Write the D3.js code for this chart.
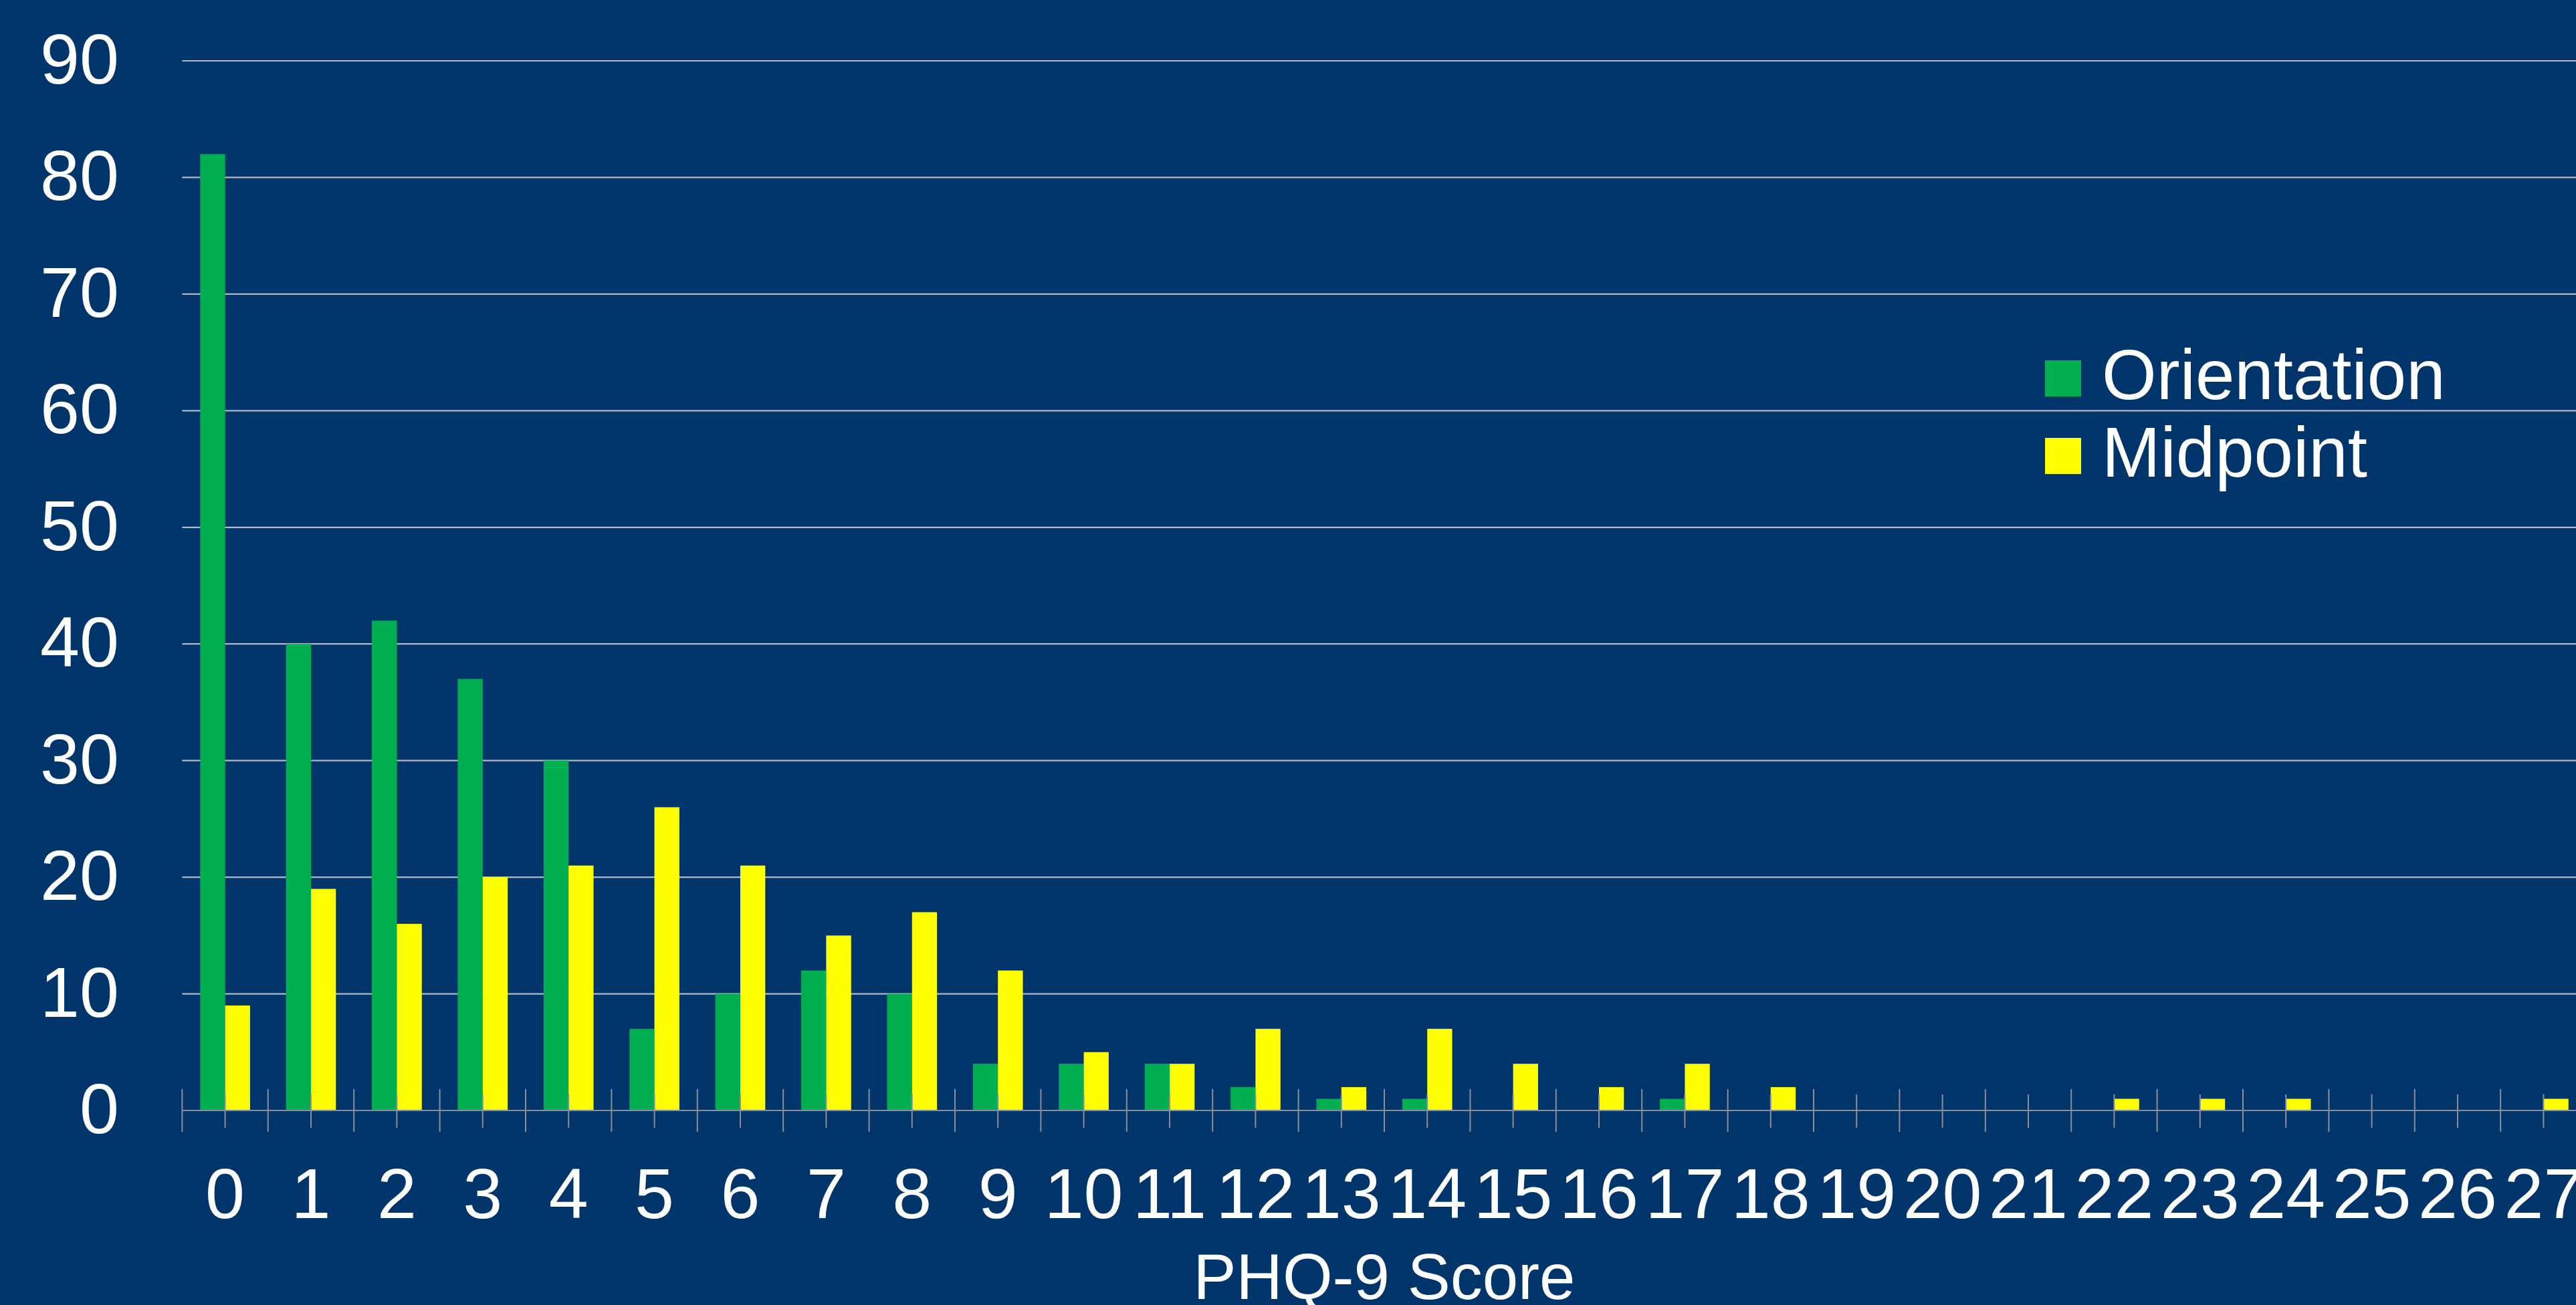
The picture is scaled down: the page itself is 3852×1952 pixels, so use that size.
<!DOCTYPE html>
<html>
<head>
<meta charset="utf-8">
<script src="https://cdn.jsdelivr.net/npm/d3@7"></script>
<style>
  html, body { margin: 0; padding: 0; background: #00356B; overflow: hidden; }
  svg { display: block; }
  text { font-family: "Liberation Sans", Arial, Helvetica, sans-serif; fill: #FFFFFF; }
</style>
</head>
<body>
<svg id="chart" width="3852" height="1952"></svg>
<script>
// PHQ-9 score distribution at orientation and at midpoint
const scores = ["0","1","2","3","4","5","6","7","8","9","10","11","12","13","14","15","16","17","18","19","20","21","22","23","24","25","26","27"];
const seriesNames = ["Orientation", "Midpoint"];
const orientation = [82, 40, 42, 37, 30, 7, 10, 12, 10, 4, 4, 4, 2, 1, 1, 0, 0, 1, 0, 0, 0, 0, 0, 0, 0, 0, 0, 0];
const midpoint    = [9, 19, 16, 20, 21, 26, 21, 15, 17, 12, 5, 4, 7, 2, 7, 4, 2, 4, 2, 0, 0, 0, 1, 1, 1, 0, 0, 1];
const yTicks = [0, 10, 20, 30, 40, 50, 60, 70, 80, 90];
const xTitle = "PHQ-9 Score";

const colors = { Orientation: "#00B050", Midpoint: "#FFFF00" };

const W = 3852, H = 1952;
const plot = { left: 272.4, right: 3867.6, top: 91, bottom: 1661 };

const svg = d3.select("#chart");
svg.append("rect").attr("width", W).attr("height", H).attr("fill", "#00356B");

const x0 = d3.scaleBand().domain(scores).range([plot.left, plot.right]).padding(0);
const x1 = d3.scaleBand().domain(seriesNames).range([0, x0.bandwidth()])
  .paddingInner(0).paddingOuter(0.72);
const y = d3.scaleLinear().domain([0, 90]).range([plot.bottom, plot.top]);

// horizontal gridlines
svg.append("g").selectAll("line")
  .data(yTicks.filter(d => d > 0))
  .join("line")
  .attr("x1", plot.left).attr("x2", W)
  .attr("y1", d => y(d)).attr("y2", d => y(d))
  .attr("stroke", "#B3B8C2").attr("stroke-width", 2.2);

// bars
const rows = scores.map((s, i) => ({ score: s, Orientation: orientation[i], Midpoint: midpoint[i] }));
const groups = svg.append("g").selectAll("g")
  .data(rows)
  .join("g")
  .attr("transform", d => `translate(${x0(d.score)},0)`);
groups.selectAll("rect")
  .data(d => seriesNames.map(k => ({ key: k, value: d[k] })))
  .join("rect")
  .attr("x", d => x1(d.key))
  .attr("width", x1.bandwidth())
  .attr("y", d => y(d.value))
  .attr("height", d => y(0) - y(d.value))
  .attr("fill", d => colors[d.key]);

// category axis: baseline, boundary ticks and centre ticks
const axisColor = "#8A8F99";
const ax = svg.append("g");
ax.append("line")
  .attr("x1", plot.left).attr("x2", W)
  .attr("y1", y(0)).attr("y2", y(0))
  .attr("stroke", axisColor).attr("stroke-width", 2.2);
const bounds = scores.map(s => x0(s)).concat([x0(scores[scores.length - 1]) + x0.bandwidth()]);
ax.selectAll("line.bound")
  .data(bounds)
  .join("line").attr("class", "bound")
  .attr("x1", d => d).attr("x2", d => d)
  .attr("y1", y(0) - 32).attr("y2", y(0) + 32)
  .attr("stroke", axisColor).attr("stroke-width", 2);
ax.selectAll("line.mid")
  .data(scores)
  .join("line").attr("class", "mid")
  .attr("x1", d => x0(d) + x0.bandwidth() / 2).attr("x2", d => x0(d) + x0.bandwidth() / 2)
  .attr("y1", y(0) - 24).attr("y2", y(0) + 26)
  .attr("stroke", axisColor).attr("stroke-width", 2);

// category labels
svg.append("g").selectAll("text")
  .data(scores)
  .join("text")
  .attr("x", d => x0(d) + x0.bandwidth() / 2)
  .attr("y", y(0) + 161)
  .attr("text-anchor", "middle")
  .attr("font-size", 106)
  .text(d => d);

// value labels
svg.append("g").selectAll("text")
  .data(yTicks)
  .join("text")
  .attr("x", 178)
  .attr("y", d => y(d) + 34)
  .attr("text-anchor", "end")
  .attr("font-size", 106)
  .text(d => d);

// axis title
svg.append("text")
  .attr("x", (plot.left + plot.right) / 2)
  .attr("y", 1943)
  .attr("text-anchor", "middle")
  .attr("font-size", 96)
  .text(xTitle);

// legend
const legend = svg.append("g").attr("transform", "translate(3058,539)");
const items = legend.selectAll("g")
  .data(seriesNames)
  .join("g")
  .attr("transform", (d, i) => `translate(0,${i * 116})`);
items.append("rect")
  .attr("width", 54).attr("height", 54)
  .attr("fill", d => colors[d]);
items.append("text")
  .attr("x", 85).attr("y", 58)
  .attr("font-size", 105)
  .text(d => d);
</script>
</body>
</html>
